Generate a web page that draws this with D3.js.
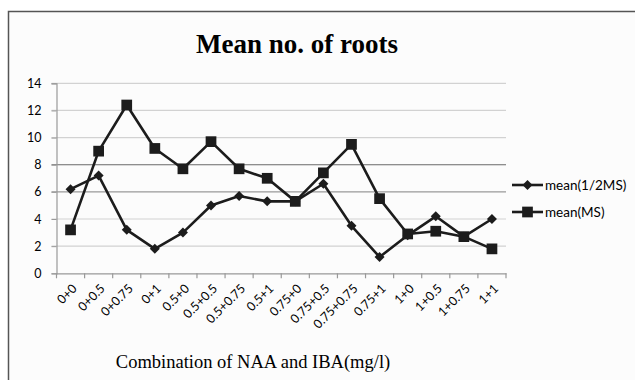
<!DOCTYPE html>
<html>
<head>
<meta charset="utf-8">
<script src="https://cdn.jsdelivr.net/npm/d3@7"></script>
<style>
  html, body { margin: 0; padding: 0; background: #ffffff; }
  svg { display: block; }
</style>
</head>
<body>
<svg id="chart" width="635" height="380"></svg>
<script>
// Treatment combinations of NAA + IBA (mg/l)
const categories = ["0+0", "0+0.5", "0+0.75", "0+1", "0.5+0", "0.5+0.5", "0.5+0.75", "0.5+1",
  "0.75+0", "0.75+0.5", "0.75+0.75", "0.75+1", "1+0", "1+0.5", "1+0.75", "1+1"];

// Mean number of roots per medium
const halfMS = [6.2, 7.2, 3.2, 1.8, 3.0, 5.0, 5.7, 5.3, 5.3, 6.6, 3.5, 1.2, 2.8, 4.2, 2.7, 4.0];
const fullMS = [3.2, 9.0, 12.4, 9.2, 7.7, 9.7, 7.7, 7.0, 5.3, 7.4, 9.5, 5.5, 2.9, 3.1, 2.7, 1.8];

const seriesNames = ["mean(1/2MS)", "mean(MS)"];
const yTicks = [0, 2, 4, 6, 8, 10, 12, 14];

const svg = d3.select("#chart");
const ink = "#1c1c1c";
const sansFont = "Lato, 'Liberation Sans', sans-serif";

// Chart frame
svg.append("rect")
  .attr("x", 8.5).attr("y", 11.5)
  .attr("width", 700).attr("height", 500)
  .attr("fill", "#fcfcfc")
  .attr("stroke", "#555").attr("stroke-width", 1.5);

const plot = { left: 56.5, right: 506, top: 83.3, bottom: 273.3 };

const x = d3.scaleBand().domain(categories).range([plot.left, plot.right]);
const y = d3.scaleLinear().domain([0, 14]).range([plot.bottom, plot.top]);

// Horizontal gridlines
const gridTone = v => v === 8 ? "#6a6a6a" : (v === 6 ? "#9a9a9a" : "#d2d2d2");
svg.append("g").selectAll("line")
  .data(yTicks.filter(v => v > 0))
  .join("line")
  .attr("x1", plot.left - 5).attr("x2", plot.right)
  .attr("y1", d => y(d)).attr("y2", d => y(d))
  .attr("stroke", gridTone).attr("stroke-width", 1.2);

// Y axis
const yAxis = svg.append("g")
  .attr("transform", `translate(${plot.left},0)`)
  .call(d3.axisLeft(y).tickValues(yTicks).tickSize(5).tickPadding(10).tickFormat(d3.format("d")));
yAxis.select(".domain").attr("stroke", "#999").attr("stroke-width", 1.2);
yAxis.selectAll(".tick line").attr("stroke", "#999");
yAxis.selectAll("text")
  .attr("font-family", sansFont)
  .attr("font-size", 12.5).attr("fill", "#000");

// X axis with ticks on category boundaries
const xAxis = svg.append("g")
  .attr("transform", `translate(0,${plot.bottom})`)
  .call(d3.axisBottom(x).tickSize(0).tickFormat(""));
xAxis.select(".domain").attr("stroke", "#999").attr("stroke-width", 1.2);
xAxis.selectAll(".tick").remove();
const bounds = categories.map(c => x(c)).concat([x(categories[categories.length - 1]) + x.bandwidth()]);
svg.append("g").selectAll("line")
  .data(bounds)
  .join("line")
  .attr("x1", d => d).attr("x2", d => d)
  .attr("y1", plot.bottom).attr("y2", plot.bottom + 5)
  .attr("stroke", "#999").attr("stroke-width", 1.2);

// Rotated category labels
svg.append("g").selectAll("text")
  .data(categories)
  .join("text")
  .attr("transform", d => `translate(${x(d) + x.bandwidth() / 2 + 4},${plot.bottom + 13}) rotate(-45)`)
  .attr("text-anchor", "end")
  .attr("dy", "0.35em")
  .attr("font-family", sansFont)
  .attr("font-size", 12.5).attr("fill", "#000")
  .text(d => d);

// Lines and markers
const line = d3.line()
  .x((d, i) => x(categories[i]) + x.bandwidth() / 2)
  .y(d => y(d));

const series = [
  { name: seriesNames[0], values: halfMS, marker: "diamond" },
  { name: seriesNames[1], values: fullMS, marker: "square" }
];

const squarePath = d3.symbol(d3.symbolSquare, 115)();
const diamondPath = d3.symbol(d3.symbolSquare, 50)();

function drawMarker(g, kind) {
  g.append("path")
    .attr("d", kind === "square" ? squarePath : diamondPath)
    .attr("transform", kind === "square" ? null : "rotate(45)")
    .attr("fill", ink);
}

series.forEach(s => {
  svg.append("path")
    .datum(s.values)
    .attr("d", line)
    .attr("fill", "none")
    .attr("stroke", ink)
    .attr("stroke-width", 2.6)
    .attr("stroke-linejoin", "round");
  svg.append("g").selectAll("g")
    .data(s.values)
    .join("g")
    .attr("transform", (d, i) => `translate(${x(categories[i]) + x.bandwidth() / 2},${y(d)})`)
    .each(function () { drawMarker(d3.select(this), s.marker); });
});

// Legend
const legend = svg.append("g");
series.forEach((s, i) => {
  const ly = 185 + i * 27;
  const g = legend.append("g");
  g.append("line")
    .attr("x1", 512).attr("x2", 543)
    .attr("y1", ly).attr("y2", ly)
    .attr("stroke", ink).attr("stroke-width", 2.6);
  const m = g.append("g").attr("transform", `translate(527.5,${ly})`);
  drawMarker(m, s.marker);
  g.append("text")
    .attr("x", 545).attr("y", ly).attr("dy", "0.35em")
    .attr("font-family", sansFont)
    .attr("font-size", 13.5).attr("fill", "#000")
    .text(s.name);
});

// Title
svg.append("text")
  .attr("x", 297).attr("y", 53)
  .attr("text-anchor", "middle")
  .attr("font-family", "'Liberation Serif', 'Times New Roman', serif")
  .attr("font-weight", "bold")
  .attr("font-size", 27).attr("fill", "#000")
  .text("Mean no. of roots");

// Axis title
svg.append("text")
  .attr("x", 253).attr("y", 368)
  .attr("text-anchor", "middle")
  .attr("font-family", "'Liberation Serif', 'Times New Roman', serif")
  .attr("font-size", 18.5).attr("fill", "#000")
  .text("Combination of NAA and IBA(mg/l)");
</script>
</body>
</html>
